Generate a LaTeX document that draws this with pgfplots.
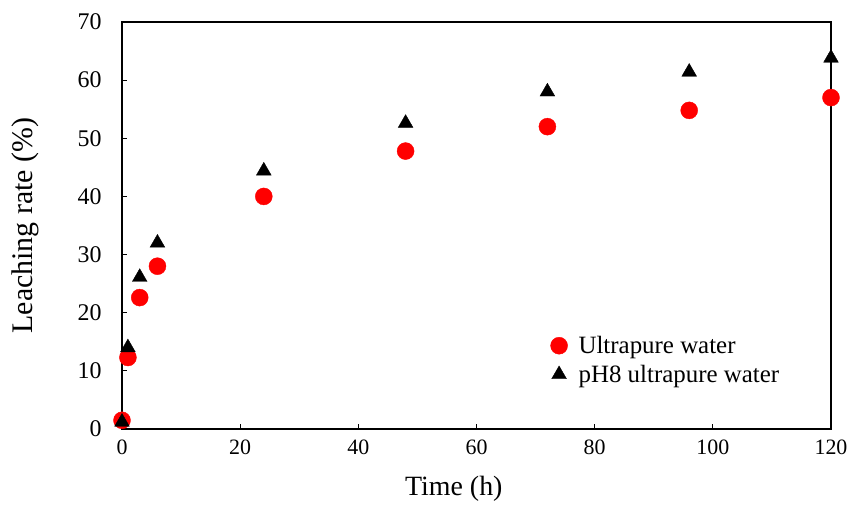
\documentclass[border=0pt]{standalone}
\usepackage{pgfplots}
\pgfplotsset{compat=1.18}
\usepackage{fontspec}
\setmainfont{Liberation Serif}

\begin{document}
\begin{tikzpicture}
% fixed page frame around the plot area
\useasboundingbox (-122bp,-77bp) rectangle (730bp,429bp);
\begin{axis}[
  at={(0,0)}, anchor=south west,
  scale only axis,
  width=709bp, height=407bp,
  xmin=0, xmax=120, ymin=0, ymax=70,
  xtick={0,20,...,120}, ytick={0,10,...,70},
  tick align=inside,
  xtick pos=bottom, ytick pos=left,
  major tick length=5bp,
  axis line style={line width=1.4bp, black},
  every tick/.style={line width=1.2bp, black},
  clip=false,
  /pgf/number format/assume math mode=true,
  xticklabel style={font=\fontsize{22}{25}\selectfont, yshift=-7bp},
  yticklabel style={font=\fontsize{24}{27}\selectfont, xshift=-17bp},
  xlabel={Time (h)},
  ylabel={Leaching rate (\%)},
  xlabel style={font=\fontsize{28}{32}\selectfont,
    at={(axis description cs:0.468,-0.148)}, anchor=center},
  ylabel style={font=\fontsize{30}{34}\selectfont,
    at={(axis description cs:-0.137,0.5)}, anchor=center},
  legend style={draw=none, fill=none, at={(0.6,0.238)}, anchor=north west,
    font=\fontsize{25}{28}\selectfont, row sep=6bp,
    legend cell align=left,
    /tikz/every odd column/.append style={column sep=9bp}},
  legend image code/.code={\draw[#1] plot coordinates {(0.35em,0)};},
]
\addplot[only marks, mark=*, mark size=8.5bp, color=red, fill=red]
  coordinates {(0,1.5) (1,12.3) (3,22.6) (6,28) (24,40) (48,47.8) (72,52) (96,54.8) (120,57)};
\addlegendentry{Ultrapure water}
\addplot[only marks, mark=triangle*, mark size=8.5bp, color=black, fill=black]
  coordinates {(0,1.2) (1,14) (3,26.1) (6,32) (24,44.4) (48,52.6) (72,58) (96,61.4) (120,63.8)};
\addlegendentry{pH8 ultrapure water}
\end{axis}
\end{tikzpicture}
\end{document}
